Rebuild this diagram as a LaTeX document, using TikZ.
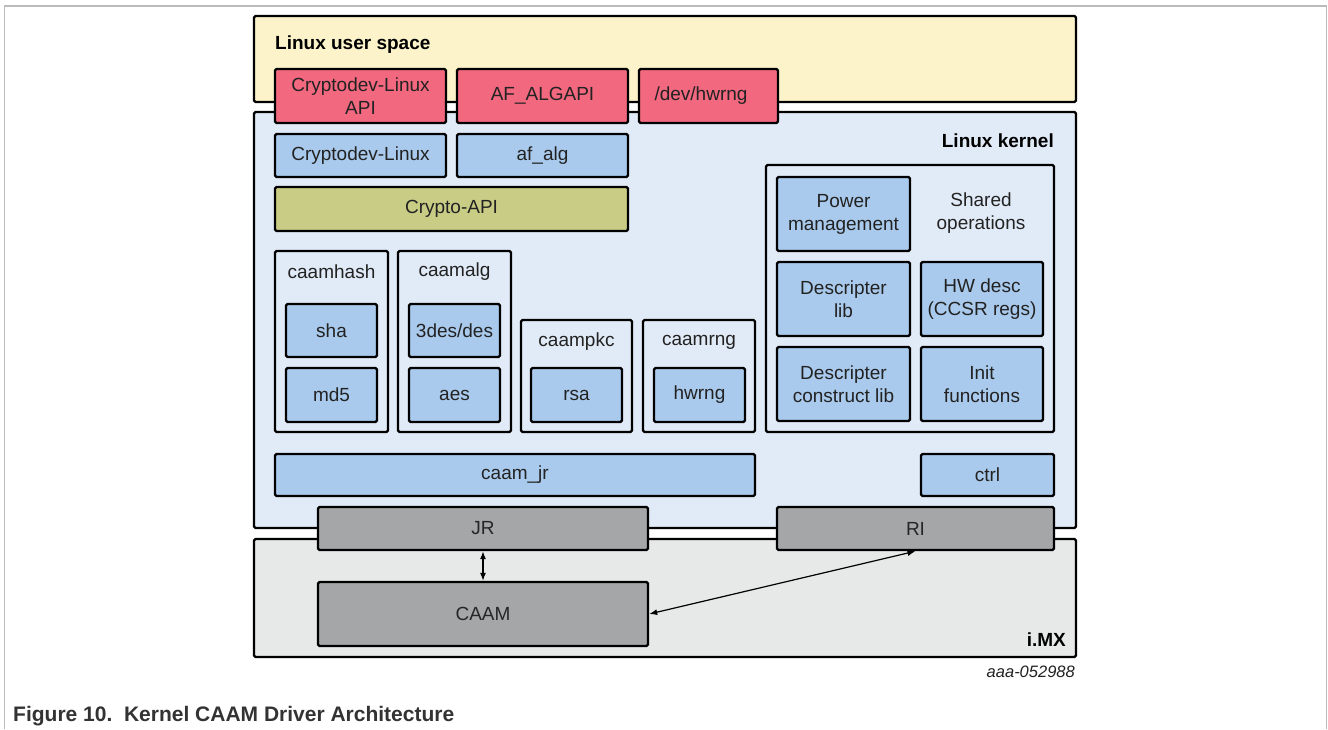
\documentclass[tikz,border=0pt]{standalone}
\usepackage{fontspec}
\setmainfont{Liberation Sans}
\usetikzlibrary{arrows.meta}
\definecolor{userfill}{HTML}{FCF3CB}
\definecolor{kernfill}{HTML}{E1EBF7}
\definecolor{imxfill}{HTML}{E7E8E8}
\definecolor{redfill}{HTML}{F2687F}
\definecolor{bluefill}{HTML}{A9CAEC}
\definecolor{olivefill}{HTML}{C8CC84}
\definecolor{grayfill}{HTML}{A5A6A8}
\definecolor{txt}{HTML}{222222}
\definecolor{frame}{HTML}{BBBBBB}
\newcommand\bx[7]{\node[#6, minimum width={#4-#2}, minimum height={#5-#3}] (#1) at ({(#2+#4)/2},{(#3+#5)/2}) {#7};}
\begin{document}
\begin{tikzpicture}[x=1pt,y=-1pt,
  base/.style={draw=black, line width=2.4pt, rounded corners=1.5pt, inner sep=0pt, align=center,
    text=txt, font=\fontsize{19}{23}\selectfont},
  layer/.style={base},
  redbox/.style={base, fill=redfill},
  bluebox/.style={base, fill=bluefill},
  olivebox/.style={base, fill=olivefill},
  graybox/.style={base, fill=grayfill, text=black!85},
  cont/.style={base, fill=kernfill},
  lbl/.style={text=txt, font=\fontsize{19}{23}\selectfont, align=center, inner sep=0pt},
  blbl/.style={text=black, font=\bfseries\fontsize{19}{23}\selectfont, inner sep=0pt},
  arr/.style={line width=1.2pt, {Latex[length=8pt,width=6pt]}-{Latex[length=8pt,width=6pt]}}
]
\useasboundingbox (0,0) rectangle (1328,729);
\fill[white] (0,0) rectangle (1328,729);
\draw[frame, line width=1.5pt] (4.5,729) -- (4.5,6) -- (1326.5,6) -- (1326.5,729);

% layers
\bx{user}{254}{16}{1076}{102}{layer, fill=userfill}{}
\bx{kernel}{254}{112}{1076}{528}{layer, fill=kernfill}{}
\bx{imx}{254}{539}{1076}{657}{layer, fill=imxfill}{}
\node[blbl, anchor=west] (userlbl) at (275,45) {Linux user space};
\node[blbl, anchor=east] (kernlbl) at (1054,141) {Linux kernel};
\node[blbl, anchor=east] (imxlbl) at (1066,640) {i.MX};

% user-space APIs
\bx{cdapi}{275}{69}{446}{123}{redbox}{Cryptodev-Linux\\API}
\bx{afapi}{457}{69}{628}{123}{redbox}{AF\_ALGAPI}
\bx{devrng}{639}{69}{778}{123}{redbox}{}
\node[lbl] (devrnglbl) at (701,96) {/dev/hwrng};

% kernel
\bx{cdl}{275}{134}{446}{177}{bluebox}{Cryptodev-Linux}
\bx{afalg}{457}{134}{628}{177}{bluebox}{af\_alg}
\bx{capi}{275}{187}{628}{231}{olivebox}{Crypto-API}

\bx{caamhash}{275}{251}{388}{432}{cont}{}
\node[lbl] (hashlbl) at (331.5,272) {caamhash};
\bx{sha}{286}{304}{377}{357}{bluebox}{sha}
\bx{md5}{286}{368}{377}{422}{bluebox}{md5}

\bx{caamalg}{398}{251}{511}{432}{cont}{}
\node[lbl] (alglbl) at (454.5,272) {caamalg};
\bx{des}{409}{304}{500}{357}{bluebox}{3des/des}
\bx{aes}{409}{368}{500}{422}{bluebox}{aes}

\bx{caampkc}{521}{320}{632}{432}{cont}{}
\node[lbl] (pkclbl) at (576.5,342) {caampkc};
\bx{rsa}{531}{368}{622}{422}{bluebox}{rsa}

\bx{caamrng}{643}{320}{755}{432}{cont}{}
\node[lbl] (rnglbl) at (699,342) {caamrng};
\bx{hwrng}{654}{368}{745}{422}{bluebox}{hwrng}

\bx{shared}{766}{165}{1054}{432}{cont}{}
\bx{pm}{777}{177}{910}{251}{bluebox}{Power\\management}
\node[lbl] (sharedlbl) at (981,213) {Shared\\operations};
\bx{dlib}{777}{262}{910}{336}{bluebox}{Descripter\\lib}
\bx{hwdesc}{921}{262}{1043}{336}{bluebox}{HW desc\\(CCSR regs)}
\bx{dclib}{777}{347}{910}{421}{bluebox}{Descripter\\construct lib}
\bx{init}{921}{347}{1043}{421}{bluebox}{Init\\functions}

\bx{caamjr}{275}{454}{755}{496}{bluebox}{caam\_jr}
\bx{ctrl}{921}{454}{1054}{496}{bluebox}{ctrl}

% hardware
\bx{jr}{318}{507}{648}{550}{graybox}{JR}
\bx{ri}{777}{507}{1054}{550}{graybox}{RI}
\bx{caam}{318}{582}{648}{646}{graybox}{CAAM}

\draw[arr] (jr.south) -- (caam.north);
\draw[arr] (caam.east) -- (ri.south);

\node[text=txt, font=\itshape\fontsize{16.5}{19}\selectfont, anchor=east, inner sep=0pt] (fig) at (1075,672) {aaa-052988};
\node[text=black!80, font=\bfseries\fontsize{21}{25}\selectfont, anchor=west, inner sep=0pt] (caption) at (13,716) {Figure 10.\ \ Kernel CAAM Driver Architecture};
\end{tikzpicture}
\end{document}
